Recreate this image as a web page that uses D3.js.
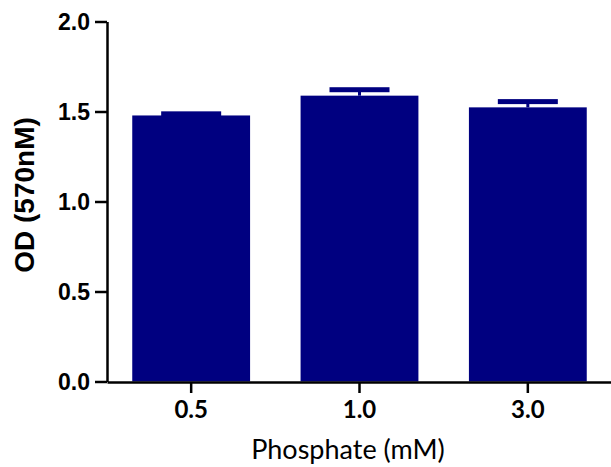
<!DOCTYPE html>
<html>
<head>
<meta charset="utf-8">
<script src="https://cdn.jsdelivr.net/npm/d3@7"></script>
<style>
  html, body { margin: 0; padding: 0; background: #fff; }
  svg { display: block; }
</style>
</head>
<body>
<svg id="chart" width="611" height="467"></svg>
<script>
// Phosphate concentrations (mM) and measured optical density at 570 nm
const categories = ["0.5", "1.0", "3.0"];
const odMeans = [1.478, 1.588, 1.523];
const odSem = [0.009, 0.033, 0.032];
const yTicks = [0.0, 0.5, 1.0, 1.5, 2.0];

const svg = d3.select("#chart");
const barColor = "#000080";

const x = d3.scaleBand()
  .domain(categories)
  .range([107, 612])
  .paddingInner(0.3)
  .paddingOuter(0.15);

const y = d3.scaleLinear()
  .domain([0, 2])
  .range([381.5, 21.5]);

// bars
svg.append("g")
  .selectAll("rect")
  .data(categories)
  .join("rect")
  .attr("x", d => x(d))
  .attr("width", x.bandwidth())
  .attr("y", (d, i) => y(odMeans[i]))
  .attr("height", (d, i) => y(0) - y(odMeans[i]))
  .attr("fill", barColor);

// SEM error bars (upper half only)
const capW = 60, capH = 5;
const eb = svg.append("g");
categories.forEach((c, i) => {
  const cx = x(c) + x.bandwidth() / 2;
  const top = y(odMeans[i] + odSem[i]);
  eb.append("line")
    .attr("x1", cx).attr("x2", cx)
    .attr("y1", y(odMeans[i])).attr("y2", top)
    .attr("stroke", barColor).attr("stroke-width", 3);
  eb.append("rect")
    .attr("x", cx - capW / 2)
    .attr("y", top - capH / 2)
    .attr("width", capW)
    .attr("height", capH)
    .attr("fill", barColor);
});

// y axis
const yAxis = svg.append("g")
  .attr("transform", "translate(107,0)")
  .call(d3.axisLeft(y).tickValues(yTicks).tickFormat(d3.format(".1f"))
    .tickSize(12).tickSizeOuter(0).tickPadding(5));
yAxis.selectAll("path, line").attr("stroke", "#000").attr("stroke-width", 2.5);
yAxis.selectAll("text")
  .attr("font-family", "'Liberation Sans', Arial, sans-serif")
  .attr("font-weight", "bold")
  .attr("font-size", 23)
  .attr("fill", "#000")
  .attr("dy", "0.36em");

// x axis
const xAxis = svg.append("g")
  .attr("transform", "translate(0,382)")
  .call(d3.axisBottom(x).tickSize(11).tickSizeOuter(0).tickPadding(8));
xAxis.selectAll("path, line").attr("stroke", "#000").attr("stroke-width", 2.5);
xAxis.selectAll("text")
  .attr("font-family", "Lato, 'Open Sans', sans-serif")
  .attr("font-weight", "bold")
  .attr("font-size", 24)
  .attr("fill", "#000")
  .attr("dy", "0.71em");

// axis titles
svg.append("text")
  .attr("x", 348)
  .attr("y", 459)
  .attr("text-anchor", "middle")
  .attr("font-family", "Lato, 'Open Sans', sans-serif")
  .attr("font-size", 27)
  .attr("fill", "#000")
  .text("Phosphate (mM)");

svg.append("text")
  .attr("transform", "translate(34,195) rotate(-90)")
  .attr("text-anchor", "middle")
  .attr("font-family", "'Liberation Sans', Arial, sans-serif")
  .attr("font-weight", "bold")
  .attr("font-size", 28)
  .attr("fill", "#000")
  .text("OD (570nM)");
</script>
</body>
</html>
